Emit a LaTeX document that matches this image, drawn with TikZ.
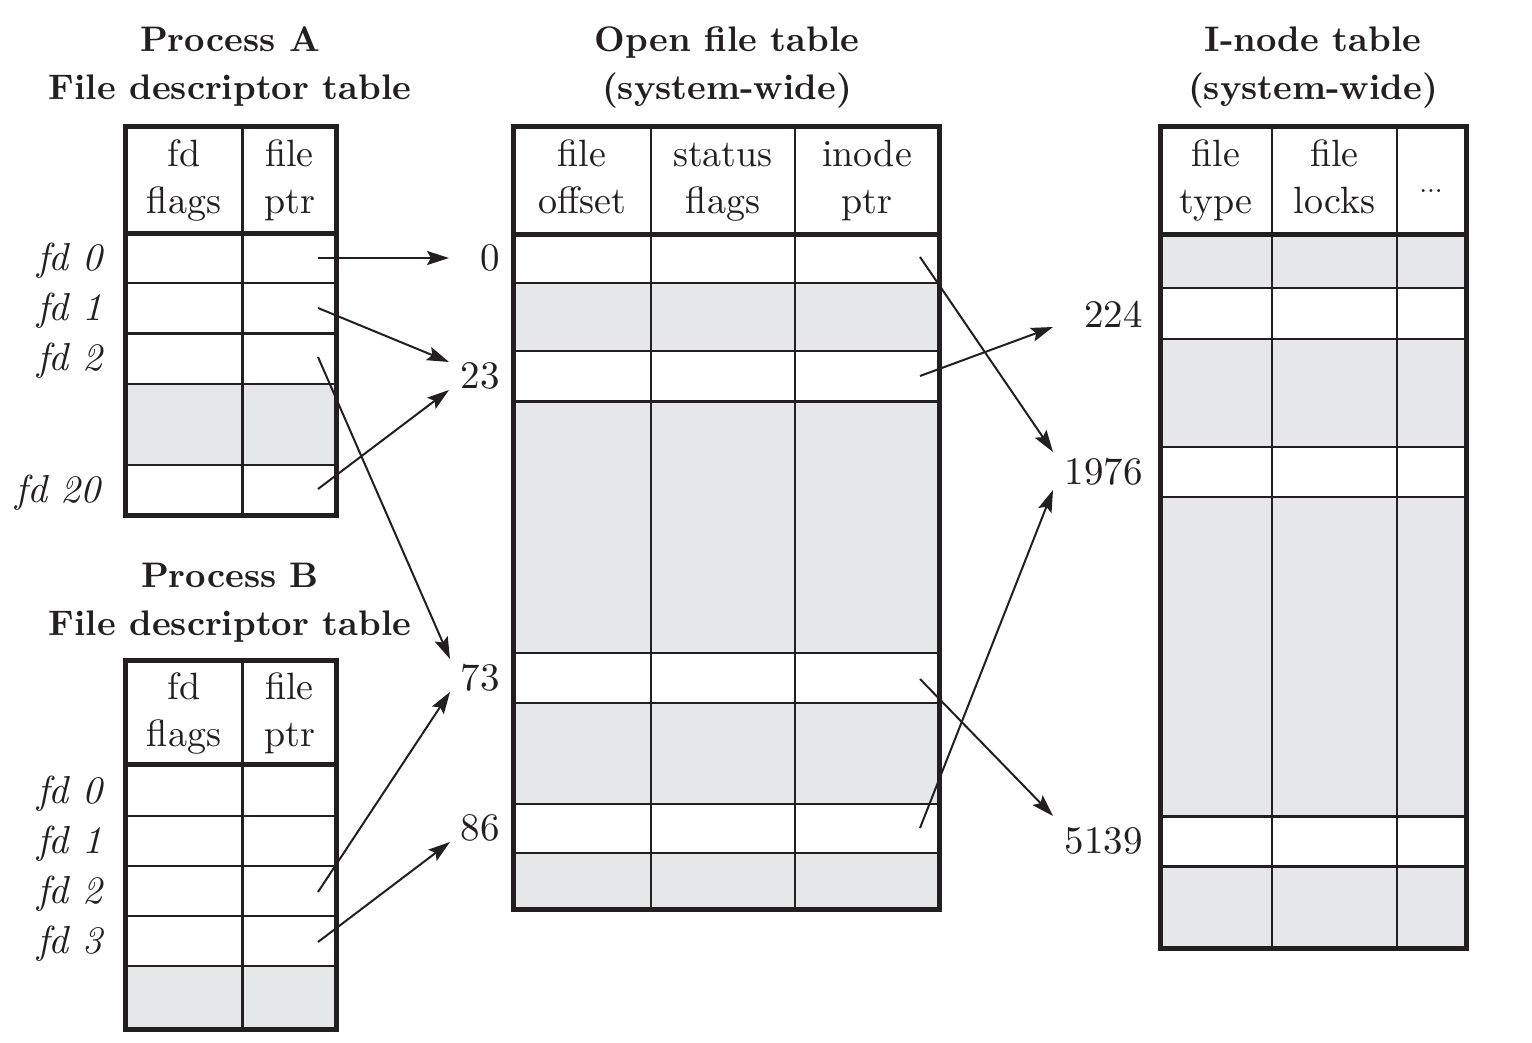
\documentclass[tikz,border=0pt]{standalone}
\usepackage{fontspec}
\setmainfont{lmroman10}[Extension=.otf, UprightFont=*-regular, BoldFont=*-bold, ItalicFont=*-italic, BoldItalicFont=*-bolditalic]
\usetikzlibrary{arrows.meta}
\definecolor{ink}{RGB}{35,31,32}
\definecolor{gcell}{RGB}{230,231,233}
\tikzset{
  gfill/.style={fill=gcell},
  inner/.style={draw=ink, line width=2.5pt},
  hdr/.style={draw=ink, line width=5pt},
  outer/.style={draw=ink, line width=5pt, line join=miter},
  arr/.style={draw=ink, line width=2pt, -{Stealth[length=22pt,width=14pt,inset=4pt]}},
  title/.style={font=\fontsize{35.5}{48}\selectfont\bfseries, align=center, inner sep=0pt, text=ink},
  head/.style={font=\fontsize{38}{47}\selectfont, align=center, inner sep=0pt, text=ink},
  fdlab/.style={font=\fontsize{39}{48}\selectfont\itshape, anchor=base east, inner sep=0pt, text=ink},
  numlab/.style={font=\fontsize{39}{48}\selectfont, anchor=base east, inner sep=0pt, text=ink},
}
\newcommand{\hl}[2]{#1\strut\\#2\strut}
\begin{document}
\begin{tikzpicture}[x=1pt, y=-1pt]
\useasboundingbox (0,0) rectangle (1532,1043);

% ---------- titles ----------
\node[title] (tA) at (230,66.4) {\hl{Process A}{File descriptor table}};
\node[title] (tB) at (230,602) {\hl{Process B}{File descriptor table}};
\node[title] (tO) at (727,66.4) {\hl{Open file table}{(system-wide)}};
\node[title] (tI) at (1313,66.4) {\hl{I-node table}{(system-wide)}};

% ---------- Process A table ----------
\fill[gfill] (125,384) rectangle (336.5,465);
\draw[inner] (242.5,126.5) -- (242.5,515);
\foreach \yy in {283,333.5,384,465} \draw[inner] (125,\yy) -- (336.5,\yy);
\draw[hdr] (125,234) -- (336.5,234);
\draw[outer] (125,126.5) rectangle (336.5,515);
\node[head] (hAa) at (184,180.5) {\hl{fd}{flags}};
\node[head] (hAb) at (289.5,180.5) {\hl{file}{ptr}};
\node[fdlab] (la0) at (103,270) {fd 0};
\node[fdlab] (la1) at (103,320) {fd 1};
\node[fdlab] (la2) at (103,370) {fd 2};
\node[fdlab] (la20) at (101,502) {fd 20};

% ---------- Process B table ----------
\fill[gfill] (125,966) rectangle (336.5,1029.5);
\draw[inner] (242.5,660.5) -- (242.5,1029.5);
\foreach \yy in {816,866,916,966} \draw[inner] (125,\yy) -- (336.5,\yy);
\draw[hdr] (125,764.5) -- (336.5,764.5);
\draw[outer] (125,660.5) rectangle (336.5,1029.5);
\node[head] (hBa) at (184,714) {\hl{fd}{flags}};
\node[head] (hBb) at (289.5,714) {\hl{file}{ptr}};
\node[fdlab] (lb0) at (103,803) {fd 0};
\node[fdlab] (lb1) at (103,853) {fd 1};
\node[fdlab] (lb2) at (103,903) {fd 2};
\node[fdlab] (lb3) at (103,953) {fd 3};

% ---------- Open file table ----------
\fill[gfill] (513.5,283) rectangle (939.5,351);
\fill[gfill] (513.5,401.5) rectangle (939.5,653);
\fill[gfill] (513.5,703) rectangle (939.5,804);
\fill[gfill] (513.5,853) rectangle (939.5,909.5);
\foreach \xx in {651,795} \draw[inner] (\xx,126.5) -- (\xx,909.5);
\foreach \yy in {283,351,401.5,653,703,804,853} \draw[inner] (513.5,\yy) -- (939.5,\yy);
\draw[hdr] (513.5,234.5) -- (939.5,234.5);
\draw[outer] (513.5,126.5) rectangle (939.5,909.5);
\node[head] (hOa) at (582,180.5) {\hl{file}{offset}};
\node[head] (hOb) at (723,180.5) {\hl{status}{flags}};
\node[head] (hOc) at (867,180.5) {\hl{inode}{ptr}};
\node[numlab] (n0) at (500,270) {0};
\node[numlab] (n23) at (500,388) {23};
\node[numlab] (n73) at (500,690) {73};
\node[numlab] (n86) at (500,840) {86};

% ---------- I-node table ----------
\fill[gfill] (1160,234.5) rectangle (1466.5,288);
\fill[gfill] (1160,339) rectangle (1466.5,447);
\fill[gfill] (1160,497) rectangle (1466.5,816.5);
\fill[gfill] (1160,866.5) rectangle (1466.5,948.5);
\foreach \xx in {1272,1397} \draw[inner] (\xx,126.5) -- (\xx,948.5);
\foreach \yy in {288,339,447,497,816.5,866.5} \draw[inner] (1160,\yy) -- (1466.5,\yy);
\draw[hdr] (1160,234.5) -- (1466.5,234.5);
\draw[outer] (1160,126.5) rectangle (1466.5,948.5);
\node[head] (hIa) at (1216,180.5) {\hl{file}{type}};
\node[head] (hIb) at (1334.5,180.5) {\hl{file}{locks}};
\node[font=\fontsize{28}{30}\selectfont, text=ink, inner sep=0pt, anchor=base] (hIc) at (1431,193) {...};
\node[numlab] (n224) at (1143,327) {224};
\node[numlab] (n1976) at (1143,484) {1976};
\node[numlab] (n5139) at (1143,853) {5139};

% ---------- connector end points ----------
\coordinate (pa0) at (318,258);
\coordinate (pa1) at (318,308);
\coordinate (pa2) at (318,357);
\coordinate (pa20) at (318,489);
\coordinate (pb2) at (318,892);
\coordinate (pb3) at (318,942);
\coordinate (po0) at (920,257);
\coordinate (po23) at (920,376);
\coordinate (po73) at (920,679);
\coordinate (po86) at (920,828);

\coordinate (t0) at (449,258);
\coordinate (t23a) at (449,362);
\coordinate (t23b) at (449,390);
\coordinate (t73a) at (450,659);
\coordinate (t73b) at (450,692);
\coordinate (t86) at (450,842);
\coordinate (t224) at (1053,327);
\coordinate (t1976a) at (1053,452);
\coordinate (t1976b) at (1053,490);
\coordinate (t5139) at (1053,816);

% ---------- connectors ----------
\draw[arr] (pa0) -- (t0);
\draw[arr] (pa1) -- (t23a);
\draw[arr] (pa20) -- (t23b);
\draw[arr] (pa2) -- (t73a);
\draw[arr] (pb2) -- (t73b);
\draw[arr] (pb3) -- (t86);
\draw[arr] (po0) -- (t1976a);
\draw[arr] (po23) -- (t224);
\draw[arr] (po73) -- (t5139);
\draw[arr] (po86) -- (t1976b);
\end{tikzpicture}
\end{document}
